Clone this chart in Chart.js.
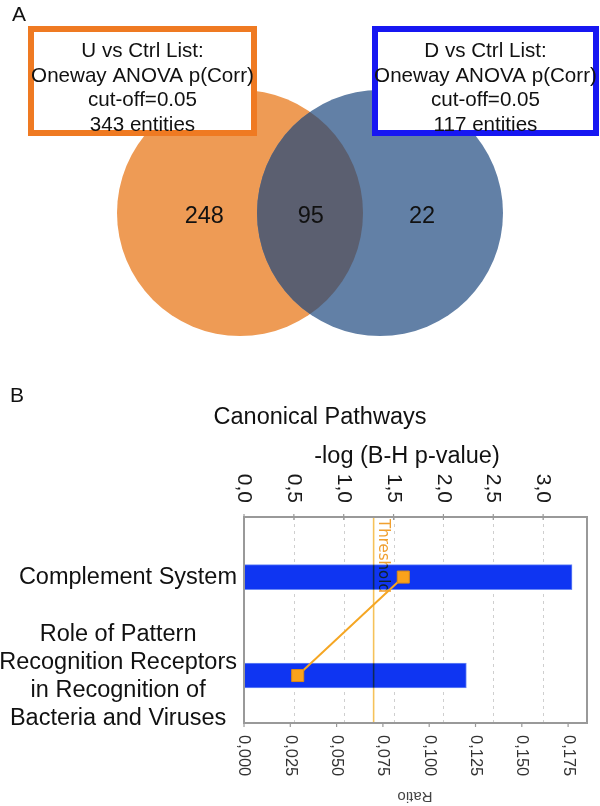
<!DOCTYPE html>
<html>
<head>
<meta charset="utf-8">
<script src="https://cdn.jsdelivr.net/npm/chart.js@4.4.1/dist/chart.umd.min.js"></script>
<style>
    html, body { margin: 0; padding: 0; background: #fff; }
    #wrap { position: relative; width: 600px; height: 806px; }
    #venn { position: absolute; left: 0; top: 0; }
    #paths { position: absolute; left: 0; top: 380px; }
</style>
</head>
<body>
<div id="wrap">
    <canvas id="venn" width="600" height="380"></canvas>
    <canvas id="paths" width="600" height="426"></canvas>
</div>
<script>
// ——— Datos ——————————————————————————————————————————
const setNames = ["U vs Ctrl List:", "D vs Ctrl List:"];
const setTest = "Oneway ANOVA p(Corr)";
const setCutoff = 0.05;
const setTotals = [343, 117];
const regionCounts = [248, 95, 22]; // solo U, ambos, solo D

const pathways = [
    "Complement System",
    ["Role of Pattern", "Recognition Receptors", "in Recognition of", "Bacteria and Viruses"],
];
const negLogP = [3.29, 2.23];
const ratios = [0.086, 0.029];
const thresholdValue = 1.3;
const pTicks = [0, 0.5, 1.0, 1.5, 2.0, 2.5, 3.0];
const ratioTicks = [0, 0.025, 0.05, 0.075, 0.1, 0.125, 0.15, 0.175];

const FONT = '"Liberation Sans", Arial, sans-serif';

// ——— Panel A: Venn ————————————————————————————————————
const vennPlugin = {
    id: "vennDeco",
    afterDatasetsDraw(chart) {
        const ctx = chart.ctx;
        const [a, b] = chart.getDatasetMeta(0).data;
        const xs = chart.scales.x;
        const ys = chart.scales.y;

        // interseccion
        ctx.save();
        ctx.beginPath();
        ctx.arc(a.x, a.y, a.options.radius, 0, Math.PI * 2);
        ctx.clip();
        ctx.beginPath();
        ctx.arc(b.x, b.y, b.options.radius, 0, Math.PI * 2);
        ctx.fillStyle = "#5b5f70";
        ctx.fill();
        ctx.restore();

        // cuentas
        const countPos = [-1.51, 0.01, 1.6];
        ctx.save();
        ctx.fillStyle = "#111";
        ctx.font = "23.5px " + FONT;
        ctx.textAlign = "center";
        ctx.textBaseline = "middle";
        regionCounts.forEach((n, i) => {
            ctx.fillText(String(n), xs.getPixelForValue(countPos[i]), ys.getPixelForValue(0) + 4);
        });
        ctx.restore();

        // cajas
        const boxes = [
            { x: 28, y: 26, w: 229, h: 110, color: "#ef7a22" },
            { x: 372, y: 26, w: 227, h: 110, color: "#1717f2" },
        ];
        boxes.forEach((bx, i) => {
            ctx.save();
            ctx.fillStyle = "#fff";
            ctx.fillRect(bx.x, bx.y, bx.w, bx.h);
            ctx.strokeStyle = bx.color;
            ctx.lineWidth = 6;
            ctx.strokeRect(bx.x + 3, bx.y + 3, bx.w - 6, bx.h - 6);
            const lines = [
                setNames[i],
                setTest,
                "cut-off=" + setCutoff.toFixed(2),
                setTotals[i] + " entities",
            ];
            ctx.fillStyle = "#111";
            ctx.font = "20.6px " + FONT;
            ctx.textAlign = "center";
            ctx.textBaseline = "alphabetic";
            lines.forEach((t, k) => ctx.fillText(t, bx.x + bx.w / 2, bx.y + 31 + k * 24.6));
            ctx.restore();
        });

        ctx.save();
        ctx.fillStyle = "#111";
        ctx.font = "21px " + FONT;
        ctx.fillText("A", 12, 21);
        ctx.restore();
    },
};

new Chart(document.getElementById("venn"), {
    type: "bubble",
    data: {
        datasets: [{
            data: [{ x: -1, y: 0 }, { x: 1, y: 0 }],
            radius: 123,
            backgroundColor: ["#ee9b55", "#6280a6"],
            borderWidth: 0,
            hoverRadius: 0,
            clip: false,
        }],
    },
    options: {
        responsive: false,
        animation: false,
        events: [],
        layout: { padding: 0, autoPadding: false },
        plugins: { legend: { display: false }, tooltip: { enabled: false } },
        scales: {
            x: { type: "linear", min: -310 / 70, max: 290 / 70, display: false },
            y: { type: "linear", min: -167 / 70, max: 213 / 70, display: false },
        },
    },
    plugins: [vennPlugin],
});

// ——— Panel B: Canonical Pathways ——————————————————————————
const pathPlugin = {
    id: "pathDeco",
    beforeDatasetsDraw(chart) {
        const { ctx, chartArea } = chart;
        const xs = chart.scales.x;
        ctx.save();
        ctx.strokeStyle = "#cfcfcf";
        ctx.lineWidth = 1;
        ctx.setLineDash([3, 4]);
        pTicks.slice(1).forEach((v) => {
            const px = Math.round(xs.getPixelForValue(v)) + 0.5;
            ctx.beginPath();
            ctx.moveTo(px, chartArea.top);
            ctx.lineTo(px, chartArea.bottom);
            ctx.stroke();
        });
        ctx.restore();
    },
    afterDatasetDraw(chart, args) {
        if (args.meta.type !== "bar") return;
        const { ctx, chartArea } = chart;
        const px = chart.scales.x.getPixelForValue(thresholdValue);
        ctx.save();
        ctx.globalCompositeOperation = "multiply";
        ctx.strokeStyle = "#f6c25a";
        ctx.lineWidth = 1.6;
        ctx.beginPath();
        ctx.moveTo(px, chartArea.top);
        ctx.lineTo(px, chartArea.bottom);
        ctx.stroke();
        ctx.translate(px + 5, chartArea.top + 2);
        ctx.rotate(Math.PI / 2);
        ctx.fillStyle = "#f0a030";
        ctx.font = '15px "DejaVu Sans", sans-serif';
        ctx.textAlign = "left";
        ctx.textBaseline = "alphabetic";
        ctx.fillText("Threshold", 0, 0);
        ctx.restore();
    },
    afterDatasetsDraw(chart) {
        const { ctx, chartArea } = chart;
        const xs = chart.scales.x;
        const rs = chart.scales.ratio;
        const ys = chart.scales.y;

        // marco
        ctx.save();
        ctx.strokeStyle = "#999";
        ctx.lineWidth = 2;
        ctx.strokeRect(chartArea.left, chartArea.top, chartArea.right - chartArea.left, chartArea.bottom - chartArea.top);

        // marcas
        ctx.lineWidth = 1.2;
        pTicks.forEach((v) => {
            const px = xs.getPixelForValue(v);
            ctx.beginPath();
            ctx.moveTo(px, chartArea.top - 3);
            ctx.lineTo(px, chartArea.top + 3);
            ctx.stroke();
        });
        ratioTicks.forEach((v) => {
            const px = rs.getPixelForValue(v);
            ctx.beginPath();
            ctx.moveTo(px, chartArea.bottom);
            ctx.lineTo(px, chartArea.bottom + 4);
            ctx.stroke();
        });
        ctx.restore();

        // etiquetas eje superior
        ctx.save();
        ctx.fillStyle = "#1a1a1a";
        ctx.font = "21px " + FONT;
        pTicks.forEach((v) => {
            ctx.save();
            ctx.translate(xs.getPixelForValue(v), chartArea.top - 14);
            ctx.rotate(Math.PI / 2);
            ctx.textAlign = "right";
            ctx.textBaseline = "middle";
            ctx.fillText(v.toFixed(1).replace(".", ","), 0, 0);
            ctx.restore();
        });

        // etiquetas eje inferior
        ctx.fillStyle = "#333";
        ctx.font = "16.5px " + FONT;
        ratioTicks.forEach((v) => {
            ctx.save();
            ctx.translate(rs.getPixelForValue(v), chartArea.bottom + 12);
            ctx.rotate(Math.PI / 2);
            ctx.textAlign = "left";
            ctx.textBaseline = "middle";
            ctx.fillText(v.toFixed(3).replace(".", ","), 0, 0);
            ctx.restore();
        });

        // titulo "Ratio" invertido
        ctx.save();
        ctx.translate(415, chartArea.bottom + 73);
        ctx.rotate(Math.PI);
        ctx.fillStyle = "#444";
        ctx.font = "15px " + FONT;
        ctx.textAlign = "center";
        ctx.textBaseline = "middle";
        ctx.fillText("Ratio", 0, 0);
        ctx.restore();

        // titulos
        ctx.fillStyle = "#111";
        ctx.font = "23.5px " + FONT;
        ctx.textAlign = "center";
        ctx.textBaseline = "alphabetic";
        ctx.fillText("Canonical Pathways", 320, 44);
        ctx.fillText("-log (B-H p-value)", 407, 83);

        // categorias
        const rightEdge = chartArea.left - 7;
        ctx.textBaseline = "middle";
        pathways.forEach((lab, i) => {
            const cy = ys.getPixelForValue(i);
            if (Array.isArray(lab)) {
                const maxW = Math.max(...lab.map((t) => ctx.measureText(t).width));
                ctx.textAlign = "center";
                lab.forEach((t, k) => {
                    ctx.fillText(t, rightEdge - maxW / 2, cy + 1 + (k - (lab.length - 1) / 2) * 28.3);
                });
            } else {
                ctx.textAlign = "right";
                ctx.fillText(lab, rightEdge, cy);
            }
        });

        ctx.textAlign = "left";
        ctx.textBaseline = "alphabetic";
        ctx.font = "21px " + FONT;
        ctx.fillText("B", 10, 22);
        ctx.restore();
    },
};

new Chart(document.getElementById("paths"), {
    type: "bar",
    data: {
        datasets: [
            {
                type: "line",
                data: ratios.map((r, i) => ({ x: r, y: i })),
                xAxisID: "ratio",
                yAxisID: "y",
                borderColor: "#f5a623",
                borderWidth: 2,
                pointStyle: "rect",
                pointRadius: 8.5,
                pointBackgroundColor: "#faa21c",
                pointBorderColor: "#e08a10",
                pointBorderWidth: 1,
                clip: false,
                order: 0,
            },
            {
                type: "bar",
                data: negLogP.map((v, i) => ({ x: v, y: i })),
                xAxisID: "x",
                yAxisID: "y",
                backgroundColor: "#0f35f2",
                borderColor: "#6d8af5",
                borderWidth: 1,
                borderSkipped: false,
                barThickness: 25,
                order: 1,
            },
        ],
    },
    options: {
        indexAxis: "y",
        responsive: false,
        animation: false,
        events: [],
        layout: { padding: { left: 244, right: 13, top: 137, bottom: 83 }, autoPadding: false },
        plugins: { legend: { display: false }, tooltip: { enabled: false } },
        scales: {
            x: { type: "linear", position: "top", min: 0, max: 3.44, display: false },
            ratio: { type: "linear", position: "bottom", min: 0, max: 0.1852, display: false },
            y: { type: "linear", min: -0.61, max: 1.482, reverse: true, offset: false, display: false },
        },
    },
    plugins: [pathPlugin],
});
</script>
</body>
</html>
